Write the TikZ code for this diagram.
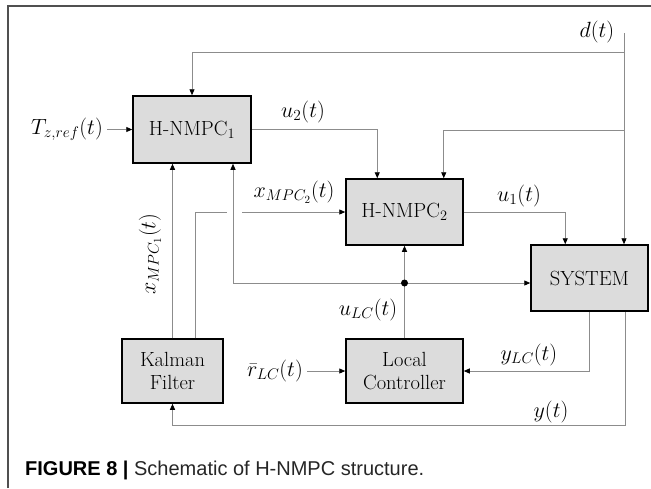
\RequirePackage{fix-cm}
\documentclass[tikz,border=0pt]{standalone}
\usepackage{fontspec}
\newfontfamily\capfont{Liberation Sans}
\usetikzlibrary{arrows.meta}
\definecolor{boxgray}{HTML}{DCDCDC}
\definecolor{linegray}{HTML}{8C8C8C}
\definecolor{framegray}{HTML}{505050}
\begin{document}
\begin{tikzpicture}[x=1pt,y=-1pt,
  blk/.style={draw=black,line width=1.5pt,fill=boxgray,inner sep=0pt,align=center,
    font=\fontsize{20.5}{23}\selectfont},
  con/.style={draw=linegray,line width=0.9pt},
  arr/.style={con,-{Triangle[length=6pt,width=5pt,color=black]}},
  lbl/.style={font=\fontsize{22}{24}\selectfont,inner sep=0pt}]
\useasboundingbox (0,0) rectangle (651,488);
% frame
\draw[framegray,line width=1.6pt] (8,488) -- (8,6) -- (651,6);
% blocks
\node[blk,minimum width=118pt,minimum height=67pt] (H1) at (192,129.5) {H-NMPC$_1$};
\node[blk,minimum width=117pt,minimum height=66pt] (H2) at (404.5,212) {H-NMPC$_2$};
\node[blk,minimum width=117pt,minimum height=66pt] (SYS) at (589.5,278) {SYSTEM};
\node[blk,minimum width=117pt,minimum height=64pt] (LC) at (404.5,371) {Local\\Controller};
\node[blk,minimum width=101pt,minimum height=64pt] (KF) at (172.5,371) {Kalman\\Filter};
% coordinates
\coordinate (dtop) at (624,33);
\coordinate (dj1) at (624,52);
\coordinate (dj2) at (624,130);
\coordinate (fb) at (233,283);
\coordinate (jdot) at (404.5,283);
\coordinate (xa) at (227,212);
\coordinate (xb) at (242,212);
\coordinate (ylev) at (0,425);
% labels
\node[lbl] (d) at (597,32) {$d(t)$};
\node[lbl,anchor=east] (T) at (103,129) {$T_{z,ref}(t)$};
\node[lbl] (u2) at (303,112) {$u_2(t)$};
\node[lbl] (u1) at (519,196) {$u_1(t)$};
\node[lbl] (xm2) at (294,192) {$x_{MPC_2}(t)$};
\node[lbl,rotate=90] (xm1) at (150,254) {$x_{MPC_1}(t)$};
\node[lbl] (ulc) at (368,310) {$u_{LC}(t)$};
\node[lbl] (ylc) at (529,355) {$y_{LC}(t)$};
\node[lbl] (y) at (551,412) {$y(t)$};
\node[lbl,anchor=east] (r) at (303,371) {$\bar{r}_{LC}(t)$};
% connectors
\draw[arr] (dtop) -- (dtop |- SYS.north);
\draw[arr] (dj1) -| (H1.north);
\draw[arr] (dj2) -| ([xshift=-20pt]H2.north east);
\draw[arr,shorten <=4pt] (T.east |- H1.west) -- (H1.west);
\draw[arr] (H1.east) -| ([xshift=32pt]H2.north west);
\draw[arr] (H2.east) -| ([xshift=35pt]SYS.north west);
\draw[arr] (KF.north) -- (KF.north |- H1.south);
\draw[con] ([xshift=22.5pt]KF.north) |- (xa);
\draw[arr] (xb) -- (H2.west);
\draw[arr] (fb) -- (fb |- H1.south);
\draw[arr] (fb) -- (fb -| SYS.west);
\draw[arr] (LC.north) -- (H2.south);
\fill (jdot) circle (3.5pt);
\draw[arr] (SYS.south) |- (LC.east);
\draw[arr] ([xshift=35.5pt]SYS.south) |- (KF.south |- ylev) -- (KF.south);
\draw[arr,shorten <=4pt] (r.east |- LC.west) -- (LC.west);
% caption
\node[anchor=west,inner sep=0pt,font=\capfont\fontsize{20}{23}\selectfont] (cap) at (25,470)
  {\textbf{FIGURE 8 |} \textcolor{black!85}{Schematic of H-NMPC structure.}};
\end{tikzpicture}
\end{document}
